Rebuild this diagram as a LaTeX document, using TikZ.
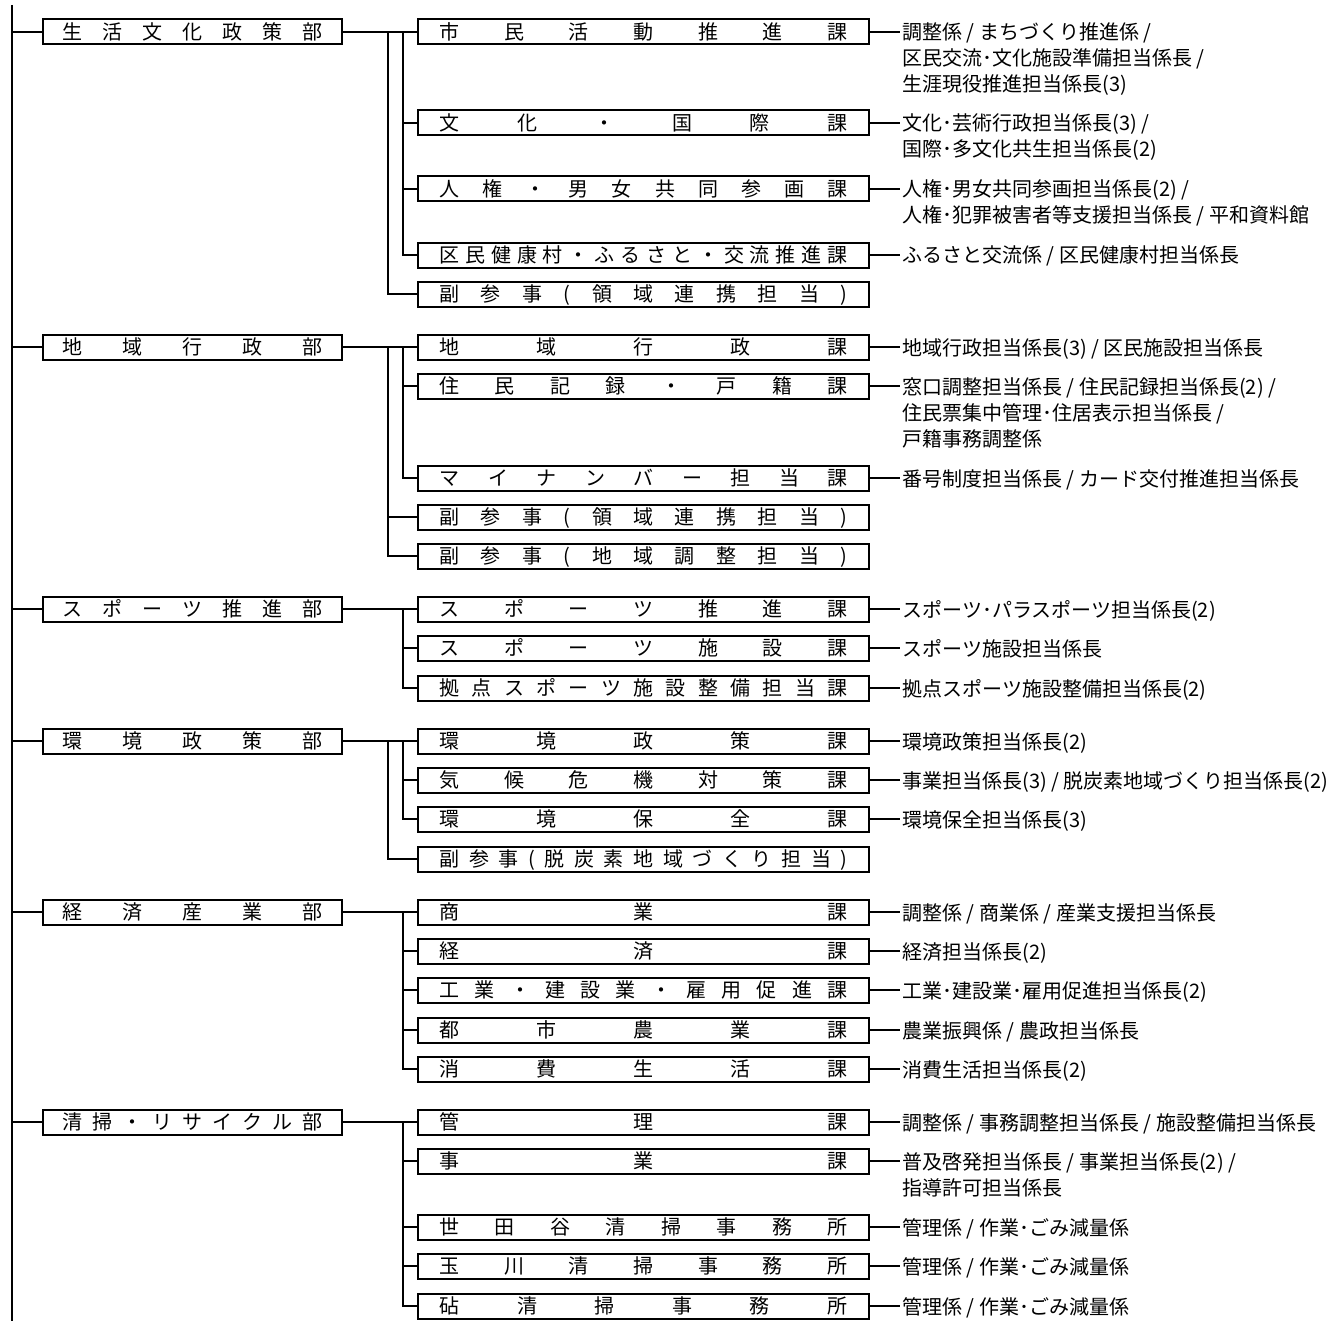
\documentclass[tikz,border=0pt]{standalone}
\usepackage{fontspec}
\setmainfont{Noto Sans CJK JP}

% Meratakan huruf di dalam kotak
\makeatletter
\newcommand\spreadtext[1]{%
	\let\spread@sep\relax
	\@tfor\spread@tok:=#1\do{\spread@sep\spread@tok\let\spread@sep\hfill}}
\makeatother
% Baris keterangan, garis dasar pada baris pertama
\newcommand\notelines[1]{\begin{tabular}[t]{@{}l@{}}#1\end{tabular}}

\begin{document}
\begin{tikzpicture}[
			x=0.5pt, y=-0.5pt,
			% Gaya untuk kotak departemen
			dept/.style={
				rectangle, 
				draw=black, 
				line width=1pt, 
				text width=130pt, 
				inner xsep=9.75pt, 
				inner ysep=0pt, 
				minimum height=12.5pt, 
				text height=8.6pt, 
				text depth=1pt, 
				font=\fontsize{10}{13}\selectfont
			},
			% Gaya untuk kotak seksi
			sect/.style={
				dept, 
				text width=204pt, 
				inner xsep=10.75pt
			},
			% Gaya untuk teks keterangan
			note/.style={
				anchor=base west, 
				inner sep=1pt, 
				font=\fontsize{10}{13}\selectfont
			},
			% Gaya untuk garis penghubung
			link/.style={
				line width=1pt
			}
			]
			
			\useasboundingbox (0,0) rectangle (1342,1321);
			
			% Garis induk dan jalur cabang
			\coordinate (trunk) at (12,5);
			\coordinate (trunkend) at (12,1321);
			\coordinate (busA) at (388,0);
			\coordinate (busB) at (403,0);
			
			% Departemen
			\node[dept] (seikatsu) at (192.5,32) {\spreadtext{生活文化政策部}};
			\node[dept] (chiiki) at (192.5,347) {\spreadtext{地域行政部}};
			\node[dept] (sports) at (192.5,609) {\spreadtext{スポーツ推進部}};
			\node[dept] (kankyo) at (192.5,741) {\spreadtext{環境政策部}};
			\node[dept] (keizai) at (192.5,912) {\spreadtext{経済産業部}};
			\node[dept] (seiso) at (192.5,1122) {\spreadtext{清掃・リサイクル部}};
			
			% Seksi: 生活文化政策部
			\node[sect] (shimin) at (643.5,32) {\spreadtext{市民活動推進課}};
			\node[sect] (kokusai) at (643.5,123) {\spreadtext{文化・国際課}};
			\node[sect] (jinken) at (643.5,189) {\spreadtext{人権・男女共同参画課}};
			\node[sect] (furusato) at (643.5,255) {\spreadtext{区民健康村・ふるさと・交流推進課}};
			\node[sect] (ryoiki1) at (643.5,294) {\spreadtext{副参事(領域連携担当)}};
			
			% Seksi: 地域行政部
			\node[sect] (gyosei) at (643.5,347) {\spreadtext{地域行政課}};
			\node[sect] (koseki) at (643.5,386) {\spreadtext{住民記録・戸籍課}};
			\node[sect] (mynumber) at (643.5,478) {\spreadtext{マイナンバー担当課}};
			\node[sect] (ryoiki2) at (643.5,517) {\spreadtext{副参事(領域連携担当)}};
			\node[sect] (chosei) at (643.5,556) {\spreadtext{副参事(地域調整担当)}};
			
			% Seksi: スポーツ推進部
			\node[sect] (suishin) at (643.5,609) {\spreadtext{スポーツ推進課}};
			\node[sect] (shisetsu) at (643.5,648) {\spreadtext{スポーツ施設課}};
			\node[sect] (kyoten) at (643.5,688) {\spreadtext{拠点スポーツ施設整備担当課}};
			
			% Seksi: 環境政策部
			\node[sect] (seisaku) at (643.5,741) {\spreadtext{環境政策課}};
			\node[sect] (kiko) at (643.5,780) {\spreadtext{気候危機対策課}};
			\node[sect] (hozen) at (643.5,819) {\spreadtext{環境保全課}};
			\node[sect] (datsutanso) at (643.5,859) {\spreadtext{副参事(脱炭素地域づくり担当)}};
			
			% Seksi: 経済産業部
			\node[sect] (shogyo) at (643.5,912) {\spreadtext{商業課}};
			\node[sect] (keizaika) at (643.5,951) {\spreadtext{経済課}};
			\node[sect] (kogyo) at (643.5,990) {\spreadtext{工業・建設業・雇用促進課}};
			\node[sect] (nogyo) at (643.5,1030) {\spreadtext{都市農業課}};
			\node[sect] (shohi) at (643.5,1069) {\spreadtext{消費生活課}};
			
			% Seksi: 清掃・リサイクル部
			\node[sect] (kanri) at (643.5,1122) {\spreadtext{管理課}};
			\node[sect] (jigyo) at (643.5,1161) {\spreadtext{事業課}};
			\node[sect] (setagaya) at (643.5,1227) {\spreadtext{世田谷清掃事務所}};
			\node[sect] (tamagawa) at (643.5,1266) {\spreadtext{玉川清掃事務所}};
			\node[sect] (kinuta) at (643.5,1306) {\spreadtext{砧清掃事務所}};
			
			% Keterangan di sebelah kanan
			\node[note] (shimin-n) at (900,40) {\notelines{調整係 / まちづくり推進係 /\\区民交流･文化施設準備担当係長 /\\生涯現役推進担当係長(3)}};
			\node[note] (kokusai-n) at (900,131) {\notelines{文化･芸術行政担当係長(3) /\\国際･多文化共生担当係長(2)}};
			\node[note] (jinken-n) at (900,197) {\notelines{人権･男女共同参画担当係長(2) /\\人権･犯罪被害者等支援担当係長 / 平和資料館}};
			\node[note] (furusato-n) at (900,263) {ふるさと交流係 / 区民健康村担当係長};
			\node[note] (gyosei-n) at (900,355) {地域行政担当係長(3) / 区民施設担当係長};
			\node[note] (koseki-n) at (900,394) {\notelines{窓口調整担当係長 / 住民記録担当係長(2) /\\住民票集中管理･住居表示担当係長 /\\戸籍事務調整係}};
			\node[note] (mynumber-n) at (900,486) {番号制度担当係長 / カード交付推進担当係長};
			\node[note] (suishin-n) at (900,617) {スポーツ･パラスポーツ担当係長(2)};
			\node[note] (shisetsu-n) at (900,656) {スポーツ施設担当係長};
			\node[note] (kyoten-n) at (900,696) {拠点スポーツ施設整備担当係長(2)};
			\node[note] (seisaku-n) at (900,749) {環境政策担当係長(2)};
			\node[note] (kiko-n) at (900,788) {事業担当係長(3) / 脱炭素地域づくり担当係長(2)};
			\node[note] (hozen-n) at (900,827) {環境保全担当係長(3)};
			\node[note] (shogyo-n) at (900,920) {調整係 / 商業係 / 産業支援担当係長};
			\node[note] (keizaika-n) at (900,959) {経済担当係長(2)};
			\node[note] (kogyo-n) at (900,998) {工業･建設業･雇用促進担当係長(2)};
			\node[note] (nogyo-n) at (900,1038) {農業振興係 / 農政担当係長};
			\node[note] (shohi-n) at (900,1077) {消費生活担当係長(2)};
			\node[note] (kanri-n) at (900,1130) {調整係 / 事務調整担当係長 / 施設整備担当係長};
			\node[note] (jigyo-n) at (900,1169) {\notelines{普及啓発担当係長 / 事業担当係長(2) /\\指導許可担当係長}};
			\node[note] (setagaya-n) at (900,1235) {管理係 / 作業･ごみ減量係};
			\node[note] (tamagawa-n) at (900,1274) {管理係 / 作業･ごみ減量係};
			\node[note] (kinuta-n) at (900,1314) {管理係 / 作業･ごみ減量係};
			
			% Garis induk ke departemen
			\draw[link] (trunk) -- (trunkend);
			\foreach \d in {seikatsu,chiiki,sports,kankyo,keizai,seiso}
				\draw[link] (trunk |- \d.west) -- (\d.west);
			
			% Departemen ke seksi pertama
			\draw[link] (seikatsu.east) -- (shimin.west);
			\draw[link] (chiiki.east) -- (gyosei.west);
			\draw[link] (sports.east) -- (suishin.west);
			\draw[link] (kankyo.east) -- (seisaku.west);
			\draw[link] (keizai.east) -- (shogyo.west);
			\draw[link] (seiso.east) -- (kanri.west);
			
			% Jalur cabang vertikal
			\draw[link] (busB |- shimin.west) |- (furusato.west);
			\draw[link] (busA |- shimin.west) |- (ryoiki1.west);
			\draw[link] (busB |- gyosei.west) |- (mynumber.west);
			\draw[link] (busA |- gyosei.west) |- (chosei.west);
			\draw[link] (busB |- suishin.west) |- (kyoten.west);
			\draw[link] (busB |- seisaku.west) |- (hozen.west);
			\draw[link] (busA |- seisaku.west) |- (datsutanso.west);
			\draw[link] (busB |- shogyo.west) |- (shohi.west);
			\draw[link] (busB |- kanri.west) |- (kinuta.west);
			
			% Cabang ke seksi lainnya
			\foreach \s in {kokusai,jinken,koseki,shisetsu,kiko,keizaika,kogyo,nogyo,jigyo,setagaya,tamagawa}
				\draw[link] (busB |- \s.west) -- (\s.west);
			\draw[link] (busA |- ryoiki2.west) -- (ryoiki2.west);
			
			% Seksi ke keterangan
			\foreach \s in {shimin,kokusai,jinken,furusato,gyosei,koseki,mynumber,suishin,shisetsu,kyoten,seisaku,kiko,hozen,shogyo,keizaika,kogyo,nogyo,shohi,kanri,jigyo,setagaya,tamagawa,kinuta}
				\draw[link] (\s.east) -- (\s.east -| \s-n.west);
			
		\end{tikzpicture}
\end{document}
